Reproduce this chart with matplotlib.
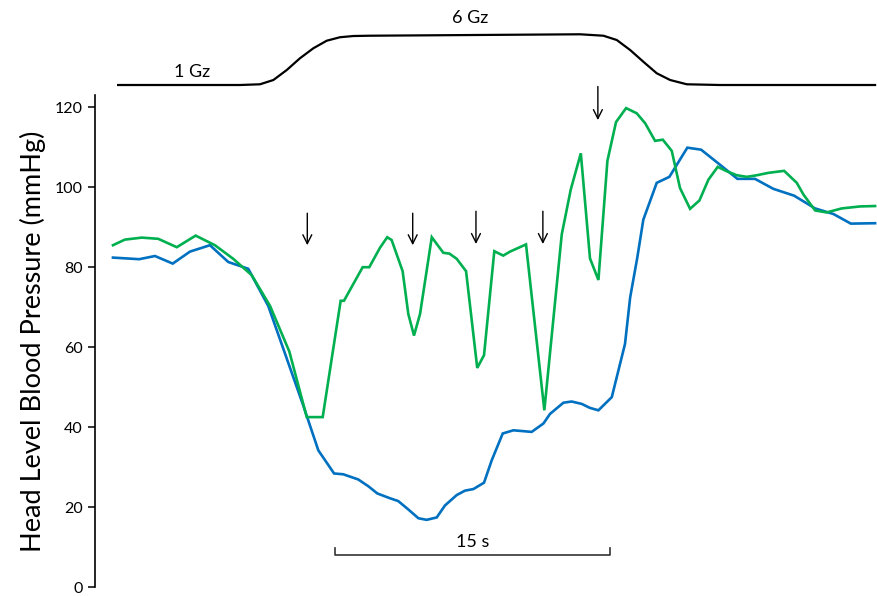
import matplotlib
matplotlib.use("Agg")
import matplotlib.pyplot as plt

plt.rcParams['font.family'] = ['Lato', 'DejaVu Sans']

# Время (с) и давление на уровне головы (мм рт. ст.)
green_t = [0.0, 0.65, 1.57, 2.47, 3.48, 4.51, 5.56, 6.56, 7.57, 8.57, 9.62, 10.57,
           11.44, 12.42, 12.60, 13.62, 13.98, 14.57, 14.96, 15.20, 15.80, 16.11,
           16.42, 16.75, 17.39, 18.02, 18.35, 18.75, 19.26, 19.87, 20.24, 20.80,
           21.29, 21.66, 22.53, 23.53, 24.48, 24.97, 25.52, 26.02, 26.48, 26.97,
           27.44, 27.99, 28.57, 29.03, 29.57, 29.99, 30.48, 30.93, 31.48, 31.99,
           32.48, 32.99, 33.48, 34.03, 34.57, 35.12, 35.75, 36.61, 37.30, 37.66,
           38.30, 38.93, 39.75, 40.75, 41.57]
green_bp = [85.5, 86.9, 87.4, 87.1, 85.0, 87.9, 85.5, 82.1, 78.0, 70.3, 58.9, 42.5,
            42.5, 71.6, 71.6, 80.0, 80.0, 84.9, 87.5, 86.8, 79.0, 68.3,
            62.9, 68.3, 87.5, 83.6, 83.4, 82.1, 79.0, 54.8, 58.0, 84.0,
            82.9, 83.9, 85.7, 44.2, 88.2, 99.4, 108.5, 82.2, 76.8, 106.6,
            116.3, 119.8, 118.5, 116.0, 111.6, 111.9, 109.1, 99.8, 94.6, 96.7,
            101.9, 105.1, 104.0, 103.0, 102.6, 103.0, 103.6, 104.1, 101.1, 98.2,
            94.2, 93.7, 94.7, 95.2, 95.3]

blue_t = [0.0, 1.43, 2.29, 3.26, 4.20, 5.29, 6.29, 7.38, 8.47, 9.33, 10.38, 11.20,
          12.06, 12.56, 13.38, 13.93, 14.42, 15.11, 15.56, 16.11, 16.66, 17.11,
          17.66, 18.11, 18.75, 19.20, 19.66, 20.24, 20.66, 21.26, 21.84, 22.84,
          23.48, 23.84, 24.57, 25.02, 25.57, 26.02, 26.48, 27.21, 27.48, 27.93,
          28.21, 28.60, 28.93, 29.66, 30.35, 31.33, 32.08, 33.12, 34.06, 35.02,
          36.02, 37.15, 38.30, 39.30, 40.25, 41.57]
blue_bp = [82.4, 82.0, 82.8, 80.9, 83.9, 85.5, 81.3, 79.6, 70.3, 59.1, 45.4, 34.2,
           28.4, 28.2, 26.9, 25.2, 23.4, 22.2, 21.5, 19.4, 17.2, 16.8,
           17.4, 20.4, 23.0, 24.1, 24.5, 26.1, 31.7, 38.4, 39.2, 38.8,
           40.9, 43.3, 46.1, 46.4, 45.8, 44.8, 44.2, 47.5, 52.5, 60.8,
           72.4, 82.4, 91.9, 101.1, 102.6, 109.9, 109.4, 105.6, 102.1, 102.1,
           99.6, 97.9, 94.7, 93.3, 90.9, 91.0]

# Профиль перегрузки (Gz)
g_t = [0.22, 6.93, 8.02, 8.75, 9.48, 10.20, 10.93, 11.66, 12.38, 13.11, 14.02,
       19.75, 25.48, 26.75, 27.48, 28.21, 28.93, 29.66, 30.39, 31.30, 33.11, 41.63]
g_val = [1.0, 1.0, 1.07, 1.49, 2.47, 3.62, 4.60, 5.34, 5.68, 5.80, 5.83,
         5.90, 5.97, 5.83, 5.41, 4.43, 3.28, 2.15, 1.49, 1.07, 1.0, 1.0]

# Стрелки: время, начало, конец
arrow_t = [10.6, 16.35, 19.8, 23.45, 26.45]
arrow_top = [93.5, 93.5, 94.0, 94.0, 125.2]
arrow_tip = [85.5, 85.5, 85.8, 85.8, 116.8]

y_ticks = [0, 20, 40, 60, 80, 100, 120]

fig = plt.figure(figsize=(8.78, 5.96), dpi=100)
ax = fig.add_axes([0.1082, 0.0151, 0.8918, 0.8250])
ax.set_xlim(-0.98, 41.73)
ax.set_ylim(0, 123)

ax.plot(blue_t, blue_bp, color='#0070C0', lw=1.9, solid_joinstyle='miter')
ax.plot(green_t, green_bp, color='#00B050', lw=1.9, solid_joinstyle='miter')

for t, y0, y1 in zip(arrow_t, arrow_top, arrow_tip):
    ax.annotate('', xy=(t, y1), xytext=(t, y0), annotation_clip=False,
                arrowprops=dict(arrowstyle='->', color='black', lw=1.0,
                                mutation_scale=16, shrinkA=0, shrinkB=0))

# шкала 15 с
ax.plot([12.11, 12.11, 27.11, 27.11], [9.7, 8.0, 8.0, 9.7], color='#333333', lw=1.2)
ax.text(19.61, 9.2, '15 s', ha='center', va='bottom', fontsize=13)

for s in ['top', 'right', 'bottom']:
    ax.spines[s].set_visible(False)
ax.spines['left'].set_linewidth(1.2)
ax.set_xticks([])
ax.set_yticks(y_ticks)
ax.tick_params(axis='y', direction='out', length=5, width=1.1, labelsize=11.5, pad=4)
ax.set_ylabel('Head Level Blood Pressure (mmHg)', fontsize=19.5, labelpad=6)

axg = fig.add_axes([0.1082, 0.8406, 0.8918, 0.1594])
axg.set_xlim(-0.98, 41.73)
axg.set_ylim(0.02, 9.33)
axg.plot(g_t, g_val, color='black', lw=1.6, solid_capstyle='butt')
axg.text(4.31, 2.27, '1 Gz', ha='center', va='center', fontsize=13)
axg.text(19.48, 7.57, '6 Gz', ha='center', va='center', fontsize=13)
axg.axis('off')

fig.savefig('out.png', dpi=100)
